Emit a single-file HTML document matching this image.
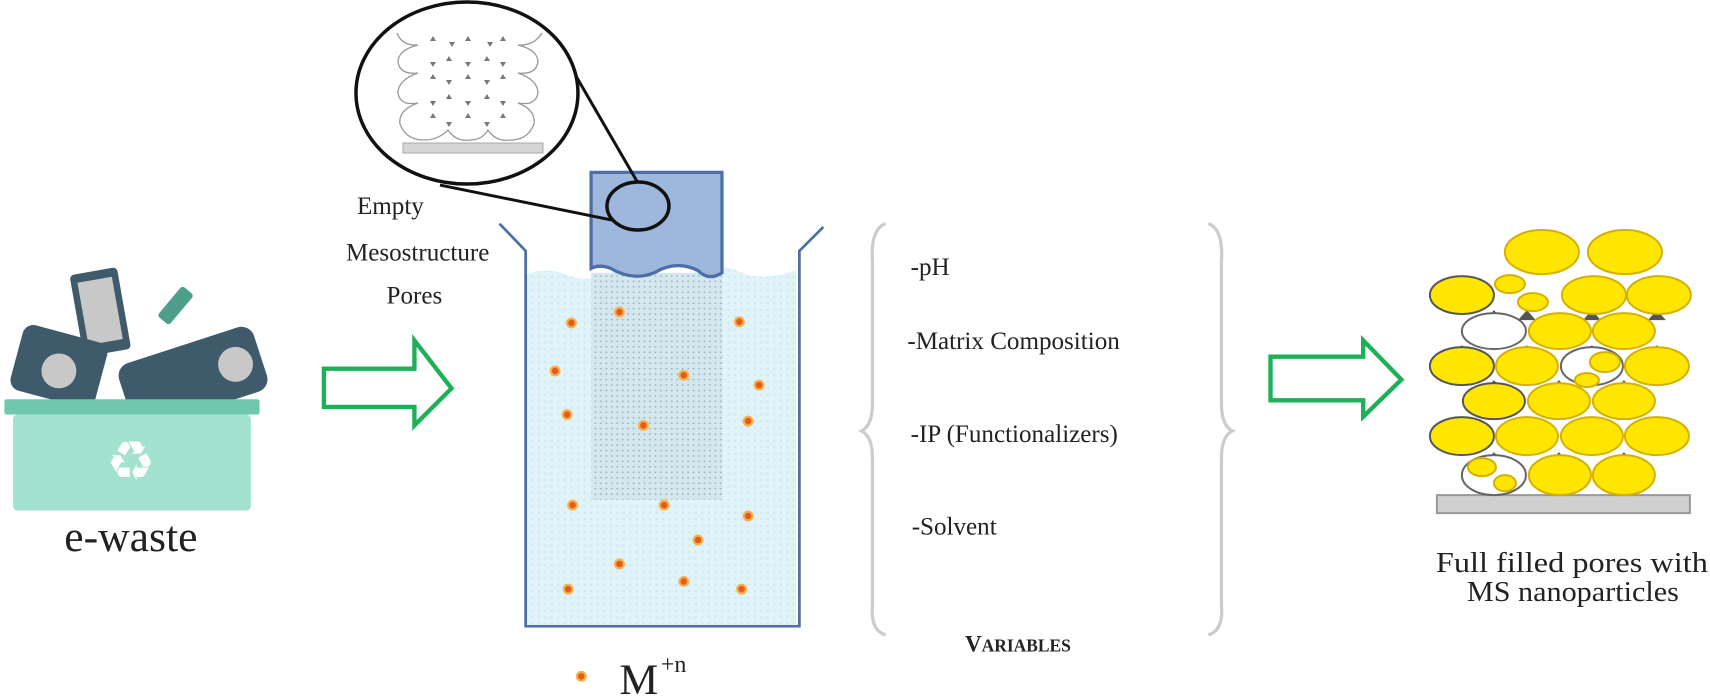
<!DOCTYPE html>
<html><head><meta charset="utf-8"><style>
body{margin:0;background:#fff;}
svg{display:block;font-family:"Liberation Serif",serif;}
</style></head><body>
<svg width="1710" height="696" viewBox="0 0 1568 638" preserveAspectRatio="none" xmlns="http://www.w3.org/2000/svg">
<defs>
<pattern id="sp" width="6" height="6" patternUnits="userSpaceOnUse">
<rect width="6" height="6" fill="#dff3f8"/><circle cx="2" cy="2" r="1" fill="#c8e8f0"/></pattern>
<pattern id="sp2" width="5" height="5" patternUnits="userSpaceOnUse">
<rect width="5" height="5" fill="#d3e6ee"/><circle cx="1" cy="3" r="0.8" fill="#8aa6b4"/></pattern>
</defs>
<!-- e-waste -->
<g>
<rect x="70" y="248" width="44" height="76" rx="4" fill="#3f5a6a" transform="rotate(-10 92 286)"/>
<rect x="76" y="256" width="32" height="58" fill="#c8c8c8" transform="rotate(-10 92 286)"/>
<rect x="154" y="262" width="14" height="36" rx="3" fill="#4f9e8c" transform="rotate(40 161 280)"/>
<rect x="14" y="305" width="80" height="62" rx="10" fill="#3f5a6a" transform="rotate(15 54 336)"/>
<circle cx="54" cy="340" r="16" fill="#c8c8c8"/>
<rect x="112" y="315" width="130" height="62" rx="12" fill="#3f5a6a" transform="rotate(-18 177 346)"/>
<circle cx="216" cy="334" r="16" fill="#c8c8c8"/>
<rect x="132" y="304" width="40" height="16" fill="#fff" transform="rotate(-18 152 312)"/>
<rect x="4" y="366" width="234" height="14" rx="2" fill="#6fc7ae"/>
<rect x="12" y="380" width="218" height="88" rx="4" fill="#a2e2cf"/>
<text x="120" y="440" font-size="50" fill="#fff" text-anchor="middle" font-family="DejaVu Sans,sans-serif">♻</text>
<text x="120" y="505" font-size="40" fill="#222" text-anchor="middle">e-waste</text>
</g>
<!-- arrow 1 -->
<path d="M297 338 H380 V312 L414 356 L380 390 V373 H297 Z" fill="#fff" stroke="#1db058" stroke-width="4"/>
<text x="358" y="196" font-size="23" fill="#222" text-anchor="middle">Empty</text>
<text x="383" y="239" font-size="23" fill="#222" text-anchor="middle">Mesostructure</text>
<text x="380" y="278" font-size="23" fill="#222" text-anchor="middle">Pores</text>
<!-- beaker -->
<path d="M482 252 Q500 244 520 252 Q540 260 560 250 Q580 242 600 250 Q620 258 640 248 Q660 240 680 250 Q700 258 730 248 V572 H482 Z" fill="url(#sp)"/>
<rect x="542" y="250" width="120" height="208" fill="url(#sp2)" opacity="0.9"/>
<path d="M542 158 H662 V250 Q650 258 640 248 Q620 238 600 250 Q580 258 560 246 Q550 242 542 246 Z" fill="#9db8dc" stroke="#4d6ea6" stroke-width="3"/>
<path d="M458 205 L482 230 V574 H733 V230 L755 208" fill="none" stroke="#4d6ea6" stroke-width="2.5"/>
<g fill="#e35c1c" stroke="#f7b04a" stroke-width="2">
<circle cx="524" cy="296" r="4"/><circle cx="568" cy="286" r="4"/><circle cx="678" cy="295" r="4"/>
<circle cx="509" cy="340" r="4"/><circle cx="627" cy="344" r="4"/><circle cx="696" cy="353" r="4"/>
<circle cx="520" cy="380" r="4"/><circle cx="590" cy="390" r="4"/><circle cx="686" cy="386" r="4"/>
<circle cx="525" cy="463" r="4"/><circle cx="609" cy="463" r="4"/><circle cx="686" cy="473" r="4"/>
<circle cx="640" cy="495" r="4"/><circle cx="568" cy="517" r="4"/><circle cx="627" cy="533" r="4"/>
<circle cx="521" cy="540" r="4"/><circle cx="680" cy="540" r="4"/>
<circle cx="533" cy="620" r="4"/></g>
<text x="568" y="636" font-size="40" fill="#222">M</text>
<text x="606" y="616" font-size="22" fill="#222">+n</text>
<!-- magnifier (real coords) -->
<g transform="scale(0.9169)">
<line x1="440" y1="185" x2="612" y2="220" stroke="#111" stroke-width="3"/>
<line x1="576" y1="76" x2="638" y2="183" stroke="#111" stroke-width="3"/>
<ellipse cx="638" cy="206" rx="31" ry="24" fill="none" stroke="#111" stroke-width="3.5"/>
<ellipse cx="467" cy="93" rx="111" ry="91" fill="#fff" stroke="#111" stroke-width="3.5"/>
<g fill="none" stroke="#999" stroke-width="1.3">
<path d="M397 33 Q402 46 418 45 Q398 50 398 62 Q400 75 418 73 Q398 80 398 93 Q400 106 418 103 Q398 110 400 124 Q406 140 424 140 Q438 140 448 130 Q456 142 470 140 Q482 140 488 130 Q496 142 510 140 Q528 140 534 124 Q536 110 518 103 Q536 106 538 93 Q538 80 518 73 Q536 75 538 62 Q538 50 518 45 Q534 46 542 33"/>
</g>
<rect x="403" y="143" width="140" height="10" fill="#d4d4d4" stroke="#aaa"/>
<g fill="#777">
<path d="M433 36 l3 5 h-6z M468 36 l3 5 h-6z M503 36 l3 5 h-6z"/>
<path d="M449 42 h6 l-3 5z M487 42 h6 l-3 5z"/>
<path d="M449 56 l3 5 h-6z M487 56 l3 5 h-6z"/>
<path d="M430 62 h6 l-3 5z M465 62 h6 l-3 5z M500 62 h6 l-3 5z"/>
<path d="M433 74 l3 5 h-6z M468 74 l3 5 h-6z M503 74 l3 5 h-6z"/>
<path d="M446 80 h6 l-3 5z M484 80 h6 l-3 5z"/>
<path d="M449 94 l3 5 h-6z M487 94 l3 5 h-6z"/>
<path d="M430 101 h6 l-3 5z M465 101 h6 l-3 5z M500 101 h6 l-3 5z"/>
<path d="M433 113 l3 5 h-6z M468 113 l3 5 h-6z M503 113 l3 5 h-6z"/>
<path d="M446 122 h6 l-3 5z M484 122 h6 l-3 5z"/>
</g>
</g>
<!-- variables -->
<path d="M812 205 Q798 210 800 240 V370 Q800 390 790 395 Q800 400 800 420 V555 Q798 578 812 582" fill="none" stroke="#ccc" stroke-width="3"/>
<path d="M1108 205 Q1122 210 1120 240 V370 Q1120 390 1130 395 Q1120 400 1120 420 V555 Q1122 578 1108 582" fill="none" stroke="#ccc" stroke-width="3"/>
<g font-size="23" fill="#222">
<text x="835" y="252">-pH</text>
<text x="832" y="320">-Matrix Composition</text>
<text x="835" y="405">-IP (Functionalizers)</text>
<text x="836" y="490">-Solvent</text>
<text x="885" y="597" font-size="21" font-weight="bold">V<tspan font-size="16">ARIABLES</tspan></text>
</g>
<!-- arrow 2 -->
<path d="M1165 327 H1250 V312 L1285 348 L1250 382 V367 H1165 Z" fill="#fff" stroke="#1db058" stroke-width="4"/>
<!-- spheres (real coords) -->
<g transform="scale(0.9169)">
<rect x="1437" y="495" width="253" height="18" fill="#d0d0d0" stroke="#999" stroke-width="2"/>
<g fill="#555">
<path d="M1494 310 l9 10 h-18z M1527 310 l9 10 h-18z M1592 310 l9 10 h-18z M1657 310 l9 10 h-18z
M1462 345 l9 10 h-18z M1527 345 l9 10 h-18z M1592 345 l9 10 h-18z M1657 345 l9 10 h-18z
M1494 380 l9 10 h-18z M1559 380 l9 10 h-18z M1624 380 l9 10 h-18z
M1462 416 l9 10 h-18z M1527 416 l9 10 h-18z M1592 416 l9 10 h-18z M1657 416 l9 10 h-18z
M1494 452 l9 10 h-18z M1559 452 l9 10 h-18z M1624 452 l9 10 h-18z"/></g>
<g stroke="#d4b000" stroke-width="2" fill="#ffe600">
<ellipse cx="1542" cy="252" rx="37" ry="22"/><ellipse cx="1625" cy="252" rx="37" ry="22"/>
<ellipse cx="1462" cy="295" rx="32" ry="19" stroke="#555"/><ellipse cx="1594" cy="295" rx="32" ry="19"/><ellipse cx="1659" cy="295" rx="32" ry="19"/>
<ellipse cx="1494" cy="331" rx="32" ry="18" fill="#fff" stroke="#666"/><ellipse cx="1560" cy="331" rx="31" ry="18"/><ellipse cx="1624" cy="331" rx="31" ry="18"/>
<ellipse cx="1510" cy="284" rx="15" ry="9"/><ellipse cx="1533" cy="302" rx="15" ry="9"/>
<ellipse cx="1462" cy="366" rx="32" ry="19" stroke="#555"/><ellipse cx="1527" cy="366" rx="31" ry="19"/><ellipse cx="1592" cy="366" rx="31" ry="19" fill="#fff" stroke="#666"/><ellipse cx="1657" cy="366" rx="32" ry="19"/>
<ellipse cx="1605" cy="362" rx="15" ry="10"/><ellipse cx="1587" cy="380" rx="12" ry="7"/>
<ellipse cx="1494" cy="401" rx="31" ry="18" stroke="#555"/><ellipse cx="1559" cy="401" rx="31" ry="18"/><ellipse cx="1624" cy="401" rx="31" ry="18"/>
<ellipse cx="1462" cy="436" rx="32" ry="19" stroke="#555"/><ellipse cx="1527" cy="436" rx="31" ry="19"/><ellipse cx="1592" cy="436" rx="31" ry="19"/><ellipse cx="1657" cy="436" rx="32" ry="19"/>
<ellipse cx="1494" cy="475" rx="32" ry="20" fill="#fff" stroke="#666"/><ellipse cx="1560" cy="475" rx="31" ry="20"/><ellipse cx="1624" cy="475" rx="31" ry="20"/>
<ellipse cx="1482" cy="467" rx="14" ry="9"/><ellipse cx="1505" cy="483" rx="11" ry="8"/>
</g>
<text x="1436" y="572" font-size="29" fill="#222" textLength="272" lengthAdjust="spacingAndGlyphs">Full filled pores with</text>
<text x="1467" y="601" font-size="29" fill="#222" textLength="212" lengthAdjust="spacingAndGlyphs">MS nanoparticles</text>
</g>
</svg>
</body></html>
